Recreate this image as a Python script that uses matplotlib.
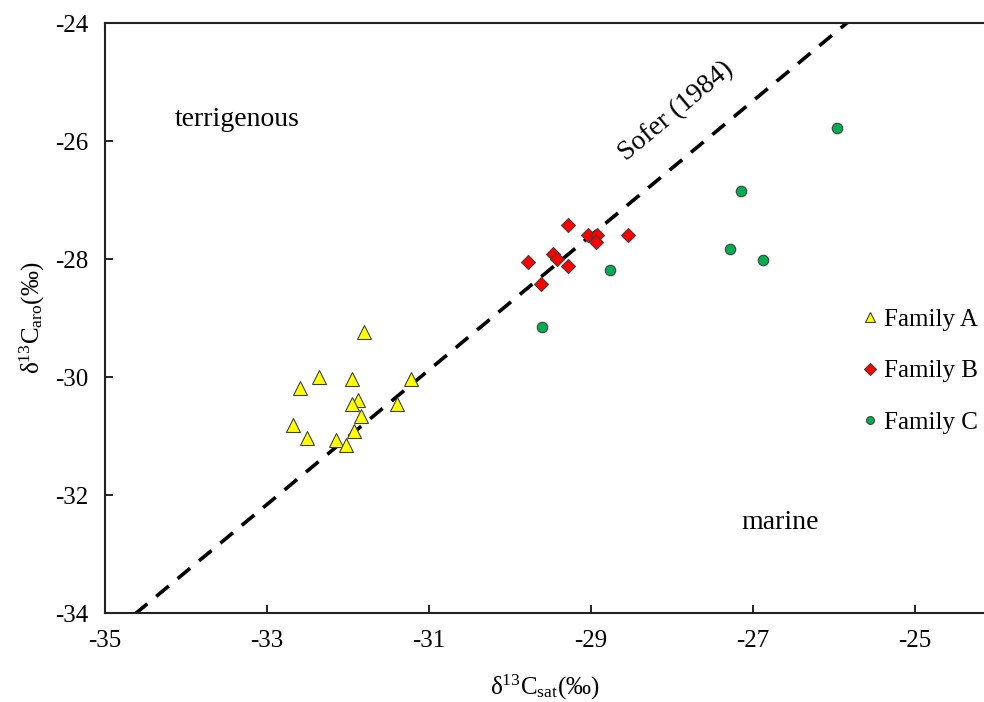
import matplotlib
matplotlib.use("Agg")
import matplotlib.pyplot as plt
import numpy as np

plt.rcParams['font.family'] = ['Liberation Serif', 'DejaVu Serif']
plt.rcParams['mathtext.fontset'] = 'custom'
plt.rcParams['mathtext.rm'] = 'Liberation Serif'
plt.rcParams['mathtext.it'] = 'Liberation Serif:italic'
plt.rcParams['axes.unicode_minus'] = False

# Family A (triangles)
a_sat = [-31.80, -32.36, -32.59, -31.95, -31.22, -31.88, -31.95, -31.39,
         -31.84, -32.68, -31.93, -32.50, -32.15, -32.03]
a_aro = [-29.24, -30.00, -30.18, -30.03, -30.03, -30.39, -30.46, -30.46,
         -30.66, -30.81, -30.91, -31.04, -31.06, -31.15]
# Family B (diamonds)
b_sat = [-29.28, -29.04, -28.93, -28.94, -28.54, -29.47, -29.42, -29.78,
         -29.28, -29.62]
b_aro = [-27.43, -27.60, -27.60, -27.71, -27.60, -27.92, -28.00, -28.05,
         -28.12, -28.43]
# Family C (circles)
c_sat = [-28.77, -29.61, -25.96, -27.15, -27.29, -26.88]
c_aro = [-28.19, -29.15, -25.78, -26.84, -27.83, -28.02]

# Sofer (1984): d13C_aro = 1.14 * d13C_sat + 5.46
sofer_slope = 1.14
sofer_icpt = 5.46

fig = plt.figure(figsize=(9.84, 7.02), dpi=100)
ax = fig.add_axes([105/984, 1 - 613/702, 879/984, 590/702])

xs = np.array([-36.0, -23.0])
line, = ax.plot(xs, sofer_slope*xs + sofer_icpt, color='black', lw=2.6, zorder=1)
line.set_dashes([4.5, 3.2])

ax.plot(a_sat, a_aro, ls='none', marker='^', ms=9.5, mfc='#FFFF00',
        mec='#404040', mew=0.8, label='Family A', zorder=3)
ax.plot(b_sat, b_aro, ls='none', marker='D', ms=7.5, mfc='#FF0000',
        mec='#404040', mew=0.8, label='Family B', zorder=3)
ax.plot(c_sat, c_aro, ls='none', marker='o', ms=7.5, mfc='#00B050',
        mec='#404040', mew=0.8, label='Family C', zorder=3)

ax.set_xlim(-35, -35 + 879/81)
ax.set_ylim(-34, -24)
ax.set_xticks([-35, -33, -31, -29, -27, -25])
ax.set_yticks([-34, -32, -30, -28, -26, -24])
ax.tick_params(direction='in', length=6, width=1.2, labelsize=18, pad=12)
ax.spines['right'].set_visible(False)
for s in ['left', 'bottom', 'top']:
    ax.spines[s].set_linewidth(1.5)
    ax.spines[s].set_color('#222222')

ax.set_xlabel(r'δ$^{13}$C$_{\rm sat}$(‰)', fontsize=18, labelpad=15)
ax.set_ylabel(r'δ$^{13}$C$_{\rm aro}$(‰)', fontsize=18, labelpad=6)

ax.text(-34.14, -25.64, 'terrigenous', fontsize=20, va='center', ha='left')
ax.text(-26.67, -32.47, 'marine', fontsize=20, va='center', ha='center')
ax.text(-27.95, -25.5, 'Sofer (1984)', fontsize=20, va='center', ha='center',
        rotation=39.8, rotation_mode='anchor')

ax.legend(loc='center left', bbox_to_anchor=(0.862, 0.41), frameon=False,
          fontsize=18, markerscale=0.75, handlelength=0.6, handletextpad=0.25,
          labelspacing=1.15, borderpad=0, borderaxespad=0)

fig.savefig('out.png', dpi=100)
